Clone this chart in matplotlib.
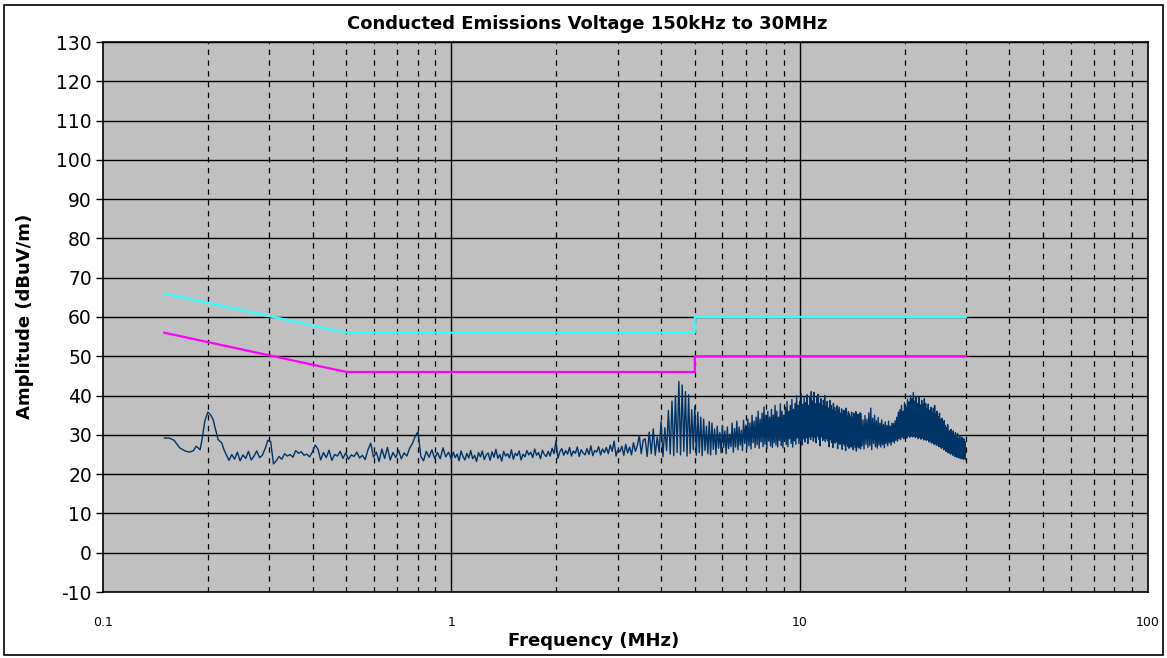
import numpy as np
import matplotlib
matplotlib.use("Agg")
import matplotlib.pyplot as plt
from matplotlib.patches import Rectangle

plt.rcParams['font.family'] = ['DejaVu Sans']

# Limit lines (EN55022 class B style) - quasi-peak and average
limit_freq = [0.15, 0.5, 5.0, 5.0, 30.0]
qp_limit = [66, 56, 56, 60, 60]
avg_limit = [56, 46, 46, 50, 50]

# Measured trace, 150 kHz - 230 kHz (read point by point)
seg_a_freq = [0.150, 0.155, 0.160, 0.166, 0.172, 0.177, 0.182, 0.185, 0.188, 0.190,
              0.193, 0.196, 0.200, 0.204, 0.207, 0.211, 0.214, 0.219, 0.223, 0.226]
seg_a_amp = [29.2, 29.2, 28.6, 26.7, 25.9, 25.6, 26.0, 27.1, 26.6, 26.2,
             29.5, 33.5, 35.8, 35.0, 33.9, 31.0, 28.8, 28.0, 26.0, 24.9]

# 0.23 - 1.0 MHz
seg_b_amp = [23.5, 25.0, 23.8, 25.6, 23.4, 24.9, 24.0, 25.8, 23.6, 24.6,
             25.9, 24.2, 24.8, 26.5, 28.6, 28.3, 22.6, 23.4, 24.5, 23.8,
             25.2, 24.6, 25.0, 24.3, 26.0, 25.3, 25.7, 24.8, 25.1, 24.4,
             25.6, 27.4, 26.4, 23.6, 25.5, 24.2, 26.1, 23.5, 25.0, 24.6,
             25.8, 24.0, 25.4, 23.8, 24.9, 24.5, 25.6, 24.1, 24.8, 23.7,
             26.2, 27.9, 24.3, 25.6, 23.2, 26.4, 24.0, 26.8, 23.6, 25.5,
             24.2, 26.1, 23.9, 25.4, 24.6, 26.6, 27.8, 29.6, 30.8, 24.6,
             23.4, 25.8, 24.3, 26.2, 24.0, 25.5, 23.9, 26.7, 24.4, 25.6]

# 1.0 - 3.6 MHz
seg_c_amp = [23.8, 25.6, 24.2, 25.1, 23.4, 25.9, 24.5, 23.6, 25.3, 24.1,
             26.0, 23.9, 24.8, 23.2, 25.5, 24.4, 25.9, 23.7, 24.9, 25.4,
             23.5, 25.7, 24.3, 26.3, 24.0, 25.0, 23.3, 25.8, 24.6, 25.2,
             24.1, 26.2, 23.8, 25.3, 24.7, 25.9, 23.6, 25.1, 24.4, 26.0,
             24.9, 25.6, 24.2, 26.4, 24.8, 25.5, 23.9, 26.1, 25.0, 24.5,
             25.8, 24.6, 26.6, 25.2, 28.5, 24.0, 25.7, 26.5, 24.8, 26.0,
             25.1, 26.8, 24.6, 25.9, 25.3, 26.9, 24.5, 26.2, 25.4, 24.9,
             26.5, 25.0, 27.2, 24.7, 26.0, 25.6, 27.0, 24.9, 26.4, 25.5,
             26.8, 25.2, 27.4, 25.8, 28.4, 24.6, 26.3, 25.7, 27.1, 24.8,
             27.6, 25.4, 26.9, 24.9, 28.0, 25.8, 27.3, 29.8, 25.2, 28.6]

# 3.6 - 9.9 MHz, harmonic peaks every 100 kHz and the floor between them
seg_d_peak = [29.0, 30.7, 31.5, 29.5, 33.4, 31.8, 36.2, 38.6, 40.0, 43.6,
              42.7, 41.0, 40.2, 36.4, 37.3, 35.8, 34.5, 34.0, 32.2, 33.4,
              33.0, 31.5, 32.2, 30.6, 32.4, 31.0, 32.0, 30.2, 33.0, 31.6,
              33.5, 32.0, 31.2, 33.7, 32.5, 34.0, 33.0, 35.0, 33.5, 34.5,
              36.0, 34.0, 35.5, 37.1, 35.0, 36.0, 34.5, 36.5, 35.0, 37.5,
              36.0, 34.5, 37.9, 36.0, 35.0, 37.0, 38.5, 36.0, 37.5, 39.0,
              36.5, 38.0, 40.0, 37.5]
seg_d_floor = [24.5, 25.2, 24.8, 25.6, 24.4, 26.0, 25.1, 24.7, 25.5, 24.9,
               25.8, 24.6, 25.3, 26.2, 24.8, 25.5, 24.7, 26.0, 25.2, 24.9,
               26.3, 25.0, 26.6, 25.4, 26.8, 25.2, 26.5, 27.0, 25.6, 26.9,
               26.2, 27.4, 26.0, 27.8, 26.5, 27.2, 26.4, 28.0, 26.8, 27.5,
               26.6, 28.2, 27.0, 27.6, 26.5, 28.4, 27.2, 26.8, 28.0, 27.4,
               26.9, 28.6, 27.3, 26.7, 28.8, 27.5, 27.0, 29.0, 27.8, 26.9,
               28.5, 27.6, 29.2, 27.8]

# 10 - 14.9 MHz, every 100 kHz
seg_e_peak = [38.5, 40.5, 37.8, 39.6, 38.2, 40.2, 37.5, 39.8, 41.0, 38.6,
              40.8, 37.9, 39.5, 40.3, 38.0, 39.2, 37.4, 38.8, 40.0, 37.2,
              38.5, 36.8, 38.8, 37.5, 36.4, 38.0, 36.9, 35.8, 37.4, 36.2,
              37.0, 35.5, 36.6, 35.2, 36.2, 35.0, 36.8, 34.8, 35.9, 35.3,
              34.6, 35.8, 34.4, 35.5, 34.1, 35.9, 34.5, 35.2, 34.0, 35.6]
seg_e_floor = [28.6, 27.4, 29.0, 28.2, 29.3, 27.8, 29.5, 28.8, 29.6, 28.4,
               29.4, 28.0, 29.7, 28.9, 27.2, 29.5, 28.6, 29.2, 28.3, 29.0,
               28.5, 27.0, 28.8, 28.1, 26.8, 28.6, 27.9, 28.3, 26.5, 28.0,
               27.6, 28.2, 26.3, 27.9, 27.3, 26.0, 27.8, 27.1, 26.6, 27.5,
               26.9, 27.4, 26.2, 27.6, 26.8, 25.9, 27.3, 26.7, 27.0, 26.4]

# 15 - 29.8 MHz, every 200 kHz
seg_f_peak = [35.4, 33.8, 34.9, 34.0, 35.6, 36.8, 34.2, 35.0, 33.6, 34.4,
              33.0, 33.8, 32.6, 33.3, 32.4, 33.5, 32.2, 33.0, 32.9, 33.6,
              34.5, 35.8, 36.4, 37.5, 36.0, 38.2, 37.0, 39.0, 38.4, 40.0,
              39.2, 40.8, 38.6, 39.8, 38.0, 39.5, 37.6, 38.8, 37.8, 39.2,
              38.0, 36.6, 37.8, 36.2, 37.0, 35.6, 36.8, 37.5, 35.4, 36.0,
              34.6, 35.5, 33.8, 34.2, 33.0, 33.6, 32.4, 31.8, 32.6, 31.1,
              30.6, 31.4, 30.2, 31.0, 29.8, 30.6, 29.4, 30.3, 29.0, 29.8,
              28.8, 29.4, 28.5, 29.0, 28.3]
seg_f_floor = [27.2, 26.4, 27.6, 26.8, 27.3, 26.2, 27.8, 27.0, 26.6, 27.4,
               26.9, 27.5, 26.7, 27.8, 27.2, 28.0, 27.4, 28.3, 27.9, 28.6,
               28.4, 29.0, 28.8, 29.4, 29.0, 29.6, 29.2, 29.8, 29.4, 29.7,
               29.5, 29.7, 29.3, 29.6, 29.0, 29.4, 28.9, 29.2, 28.7, 28.9,
               28.6, 28.8, 28.2, 28.5, 27.9, 28.1, 27.6, 27.8, 27.3, 27.5,
               27.0, 27.2, 26.6, 26.8, 26.2, 26.4, 25.8, 26.0, 25.4, 25.6,
               25.1, 25.3, 24.8, 25.0, 24.5, 24.7, 24.3, 24.5, 24.1, 24.3,
               23.9, 24.2, 23.8, 24.0, 23.7]

y_ticks = list(range(-10, 131, 10))
x_tick_vals = [0.1, 1, 10, 100]
x_tick_labels = ['0.1', '1', '10', '100']


def peaks_and_floor(start, step, peaks, floors):
    # sweep points: a peak on each harmonic, the floor halfway to the next one
    f0 = start + step * np.arange(len(peaks))
    freq = np.column_stack([f0, f0 + step / 2]).ravel()
    amp = np.column_stack([peaks, floors]).ravel()
    return freq, amp


seg_b_freq = np.geomspace(0.23, 1.0, len(seg_b_amp), endpoint=False)
seg_c_freq = np.geomspace(1.0, 3.6, len(seg_c_amp), endpoint=False)
fd, ad = peaks_and_floor(3.6, 0.1, seg_d_peak, seg_d_floor)
fe, ae = peaks_and_floor(10.0, 0.1, seg_e_peak, seg_e_floor)
ff, af = peaks_and_floor(15.0, 0.2, seg_f_peak, seg_f_floor)

trace_freq = np.concatenate([seg_a_freq, seg_b_freq, seg_c_freq, fd, fe, ff])
trace_amp = np.concatenate([seg_a_amp, seg_b_amp, seg_c_amp, ad, ae, af])

fig = plt.figure(figsize=(11.67, 6.58), dpi=100)
ax = fig.add_axes([103 / 1167, 66 / 658, (1148 - 103) / 1167, (592 - 42) / 658])
ax.set_facecolor('#C0C0C0')

ax.set_xscale('log')
ax.set_xlim(0.1, 100)
ax.set_ylim(-10, 130)

# grid: solid horizontal, solid decade verticals, dashed minor verticals
for y in y_ticks:
    ax.axhline(y, color='black', lw=1.0, zorder=1)
for dec in [0.1, 1, 10]:
    for m in range(2, 10):
        ax.axvline(dec * m, color='black', lw=0.9, ls=(0, (4.3, 4.3)), zorder=1)
for dec in [1, 10]:
    ax.axvline(dec, color='black', lw=1.0, zorder=1)

ax.plot(limit_freq, qp_limit, color='#33FFFF', lw=1.6, zorder=3)
ax.plot(limit_freq, avg_limit, color='#FF00FF', lw=1.6, zorder=3)
ax.plot(trace_freq, trace_amp, color='#003366', lw=1.0, zorder=4)

ax.set_yticks(y_ticks)
ax.set_yticklabels([str(v) for v in y_ticks], fontsize=13.5)
ax.set_xticks(x_tick_vals)
ax.set_xticklabels(x_tick_labels, fontsize=9)
ax.xaxis.set_minor_locator(matplotlib.ticker.NullLocator())
ax.tick_params(axis='x', length=0, pad=17)
ax.tick_params(axis='y', length=5, width=1, pad=3)
for s in ax.spines.values():
    s.set_linewidth(1.2)
    s.set_color('black')

fig.text(587 / 1167, 1 - 24 / 658, 'Conducted Emissions Voltage 150kHz to 30MHz',
         ha='center', va='center', fontsize=13, fontweight='bold')
fig.text(594 / 1167, 1 - 641 / 658, 'Frequency (MHz)', ha='center', va='center',
         fontsize=13, fontweight='bold')
fig.text(25 / 1167, 1 - 316 / 658, 'Amplitude (dBuV/m)', ha='center', va='center',
         rotation=90, fontsize=13, fontweight='bold')

fig.patches.append(Rectangle((4 / 1167, 3 / 658), 1159 / 1167, 650 / 658,
                             transform=fig.transFigure, fill=False,
                             edgecolor='black', lw=1.2))

fig.savefig('out.png', dpi=100)
